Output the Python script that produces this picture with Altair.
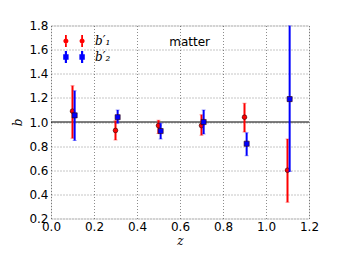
import altair as alt
import pandas as pd

# ---- data ----
series_names = ["b′₁", "b′₂"]
z1 = [0.10, 0.30, 0.50, 0.70, 0.90, 1.10]
b1 = [1.09, 0.93, 0.97, 0.97, 1.04, 0.60]
b1_lo = [0.865, 0.85, 0.905, 0.89, 0.917, 0.334]
b1_hi = [1.30, 1.01, 1.015, 1.06, 1.155, 0.86]
z2 = [0.11, 0.31, 0.51, 0.71, 0.91, 1.11]
b2 = [1.055, 1.04, 0.925, 1.00, 0.82, 1.19]
b2_lo = [0.846, 0.99, 0.86, 0.90, 0.72, 0.59]
b2_hi = [1.26, 1.10, 0.99, 1.10, 0.91, 1.80]
ref_line = [1.0]
annot_z = [0.645]
annot_b = [1.66]
annot_text = ["matter"]
x_ticks = [0.0, 0.2, 0.4, 0.6, 0.8, 1.0, 1.2]
y_ticks = [0.2, 0.4, 0.6, 0.8, 1.0, 1.2, 1.4, 1.6, 1.8]

df1 = pd.DataFrame({"z": z1, "b": b1, "lo": b1_lo, "hi": b1_hi, "series": series_names[0]})
df2 = pd.DataFrame({"z": z2, "b": b2, "lo": b2_lo, "hi": b2_hi, "series": series_names[1]})
df = pd.concat([df1, df2], ignore_index=True)

RED = "#ff0000"
BLUE = "#0000ff"

xscale = alt.Scale(domain=[0, 1.2], nice=False, zero=False)
yscale = alt.Scale(domain=[0.2, 1.8], nice=False, zero=False)

common_axis = dict(ticks=False, labelPadding=3, grid=True, gridDash=[1, 2], gridColor="#000000",
                   gridOpacity=0.45, titleFont="DejaVu Serif", titleFontStyle="italic",
                   titleFontWeight="normal", titleFontSize=12, domain=False, labelOverlap=False,
                   labelFont="DejaVu Sans", labelFontSize=12, labelColor="#000000",
                   titleColor="#000000", labelFlush=False)
xaxis = alt.Axis(values=x_ticks, format=".1f", title="z", titlePadding=3, **common_axis)
yaxis = alt.Axis(values=y_ticks, format=".1f", title="b", titlePadding=4, **common_axis)


def X(field):
    return alt.X(field, scale=xscale, axis=xaxis)


def Y(field):
    return alt.Y(field, scale=yscale, axis=yaxis)


base = alt.Chart(df)

hline = alt.Chart(pd.DataFrame({"y": ref_line})).mark_rule(color="black", strokeWidth=1).encode(
    y=Y("y:Q")
)


def series_layers(name, color, shape, size):
    d = base.transform_filter(alt.datum.series == name)
    bars = d.mark_rule(color=color, strokeWidth=2, clip=True).encode(
        x=X("z:Q"), y=Y("lo:Q"), y2="hi:Q",
    )
    cap_lo = d.mark_tick(color=color, orient="horizontal", size=4, thickness=1, opacity=0.4, clip=True).encode(
        x=X("z:Q"), y=Y("lo:Q")
    )
    cap_hi = d.mark_tick(color=color, orient="horizontal", size=4, thickness=1, opacity=0.4, clip=True).encode(
        x=X("z:Q"), y=Y("hi:Q")
    )
    pts = d.mark_point(filled=True, shape=shape, size=size, color=color, stroke="#330000",
                       strokeWidth=0.6, opacity=1, clip=True).encode(
        x=X("z:Q"), y=Y("b:Q")
    )
    return [bars, cap_lo, cap_hi, pts]


def circle(cx, r):
    return f"M{cx + r},0A{r},{r} 0 1,1 {cx - r},0A{r},{r} 0 1,1 {cx + r},0Z"


def square(cx, h):
    return f"M{cx - h},{-h}L{cx + h},{-h}L{cx + h},{h}L{cx - h},{h}Z"


def bar(cx, w, hh):
    return f"M{cx - w},{-hh}L{cx + w},{-hh}L{cx + w},{hh}L{cx - w},{hh}Z"


leg_red = bar(-0.9, 0.1, 0.67) + circle(-0.9, 0.28) + bar(0.9, 0.1, 0.67) + circle(0.9, 0.28)
leg_blue = bar(-0.9, 0.12, 0.67) + square(-0.9, 0.3) + bar(0.9, 0.12, 0.67) + square(0.9, 0.3)

legend_layer = base.mark_point(filled=True).encode(
    x=X("z:Q"),
    y=Y("b:Q"),
    color=alt.Color("series:N", scale=alt.Scale(domain=series_names, range=[RED, BLUE]),
                    legend=alt.Legend(title=None, orient="none", legendX=14, legendY=6.5,
                                      padding=0, rowPadding=0, symbolSize=324, symbolOpacity=1,
                                      symbolStrokeWidth=0, labelOffset=12,
                                      labelFont="DejaVu Serif", labelFontStyle="italic",
                                      labelFontSize=12, labelColor="#000000")),
    shape=alt.Shape("series:N", scale=alt.Scale(domain=series_names, range=[leg_red, leg_blue]),
                    legend=None),
    opacity=alt.value(0),
)

text = alt.Chart(pd.DataFrame({"z": annot_z, "b": annot_b, "t": annot_text})).mark_text(
    font="DejaVu Sans", fontSize=12, color="black"
).encode(x=X("z:Q"), y=Y("b:Q"), text="t:N")

layers = [hline] + series_layers(series_names[0], RED, "circle", 22) + \
    series_layers(series_names[1], BLUE, "square", 26) + [legend_layer, text]

chart = alt.layer(*layers).properties(
    width=258, height=193,
    autosize=alt.AutoSizeParams(type="none"),
    padding={"left": 43, "top": 17.5, "right": 20, "bottom": 30},
).configure_view(stroke="black", strokeWidth=1).configure(background="white")

chart.save("out.html", embed_options={"renderer": "svg", "actions": False})
